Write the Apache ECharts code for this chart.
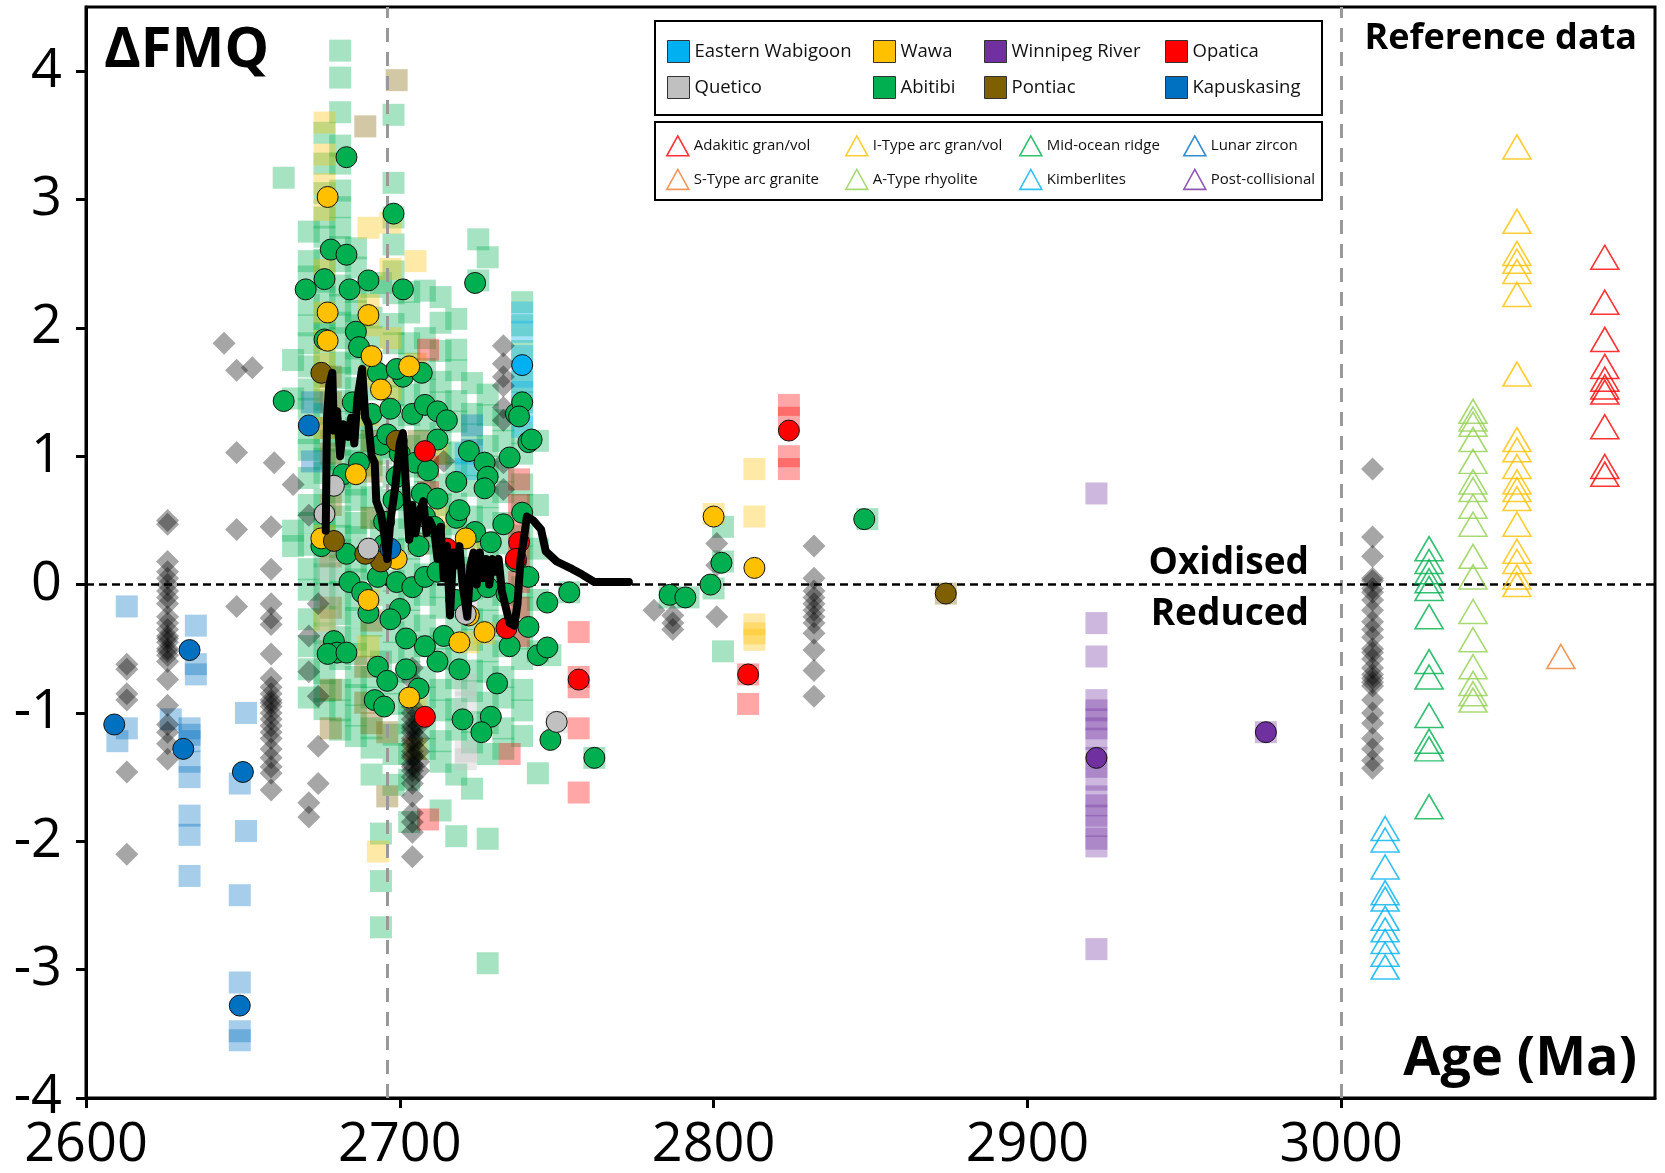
<!DOCTYPE html>
<html><head><meta charset="utf-8">
<script src="https://cdn.jsdelivr.net/npm/echarts@6/dist/echarts.min.js"></script>
<style>html,body{margin:0;padding:0;background:#fff}#c{width:1665px;height:1173px}</style>
</head><body><div id="c"></div>
<script>
// ---------- axis ticks ----------
const xTicks = [2600, 2700, 2800, 2900, 3000];
const yTicks = [-4, -3, -2, -1, 0, 1, 2, 3, 4];

// ---------- regional data: individual analyses (columns: [age, [dFMQ...]]) ----------
const abitibiSquares = [
  [2663, [3.17]], [2666, [1.75, 1.45, 0.42, 0.3]],
  [2671, [2.75, 2.52, 2.4, 2.18, 2.02, 1.88, 1.7, 1.52, 1.37, 1.18, 1.05, 0.83, 0.62, 0.48, 0.31, 0.12, -0.04, -0.27, -0.48, -0.66, -0.88]],
  [2676, [3.52, 3.28, 3.05, 2.86, 2.71, 2.53, 2.36, 2.24, 2.07, 1.96, 1.78, 1.62, 1.44, 1.33, 1.12, 0.98, 0.87, 0.66, 0.51, 0.43, 0.22, 0.08, -0.07, -0.24, -0.38, -0.52, -0.69, -0.83, -0.97]],
  [2681, [4.16, 3.95, 3.68, 3.42, 3.28, 3.07, 2.94, 2.78, 2.63, 2.52, 2.33, 2.18, 2.04, 1.92, 1.73, 1.61, 1.43, 1.27, 1.16, 0.97, 0.84, 0.72, 0.53, 0.38, 0.27, 0.09, -0.06, -0.23, -0.41, -0.58, -0.82, -0.98, -1.13]],
  [2686, [2.62, 2.47, 2.28, 2.13, 2.02, 1.84, 1.72, 1.53, 1.41, 1.22, 1.09, 0.96, 0.78, 0.66, 0.48, 0.37, 0.18, 0.04, -0.12, -0.26, -0.43, -0.54, -0.72, -0.86, -1.02, -1.18]],
  [2691, [2.32, 2.08, 1.93, 1.68, 1.52, 1.28, 1.12, 0.93, 0.68, 0.52, 0.27, 0.12, -0.08, -0.32, -0.48, -0.72, -0.88, -1.12, -1.27, -1.48]],
  [2694, [-1.94, -2.31, -2.67, 2.35, 1.02, 0.42, -0.6]],
  [2698, [3.66, 3.13, 2.86, 2.65, 2.44, 2.27, 2.03, 1.88, 1.62, 1.47, 1.23, 1.07, 0.84, 0.66, 0.43, 0.27, 0.03, -0.13, -0.37, -0.53, -0.77, -0.93, -1.17, -1.32, -1.56]],
  [2703, [2.28, 2.12, 1.88, 1.72, 1.48, 1.32, 1.08, 0.92, 0.68, 0.52, 0.28, 0.12, -0.12, -0.28, -0.52, -0.68, -0.92, -1.08, -1.32, -1.52, -1.85]],
  [2708, [2.29, 1.92, 1.68, 1.52, 1.28, 1.12, 0.88, 0.72, 0.48, 0.32, 0.08, -0.08, -0.32, -0.48, -0.72, -0.88, -1.12, -1.28]],
  [2713, [2.24, 2.04, 1.82, 1.58, 1.42, 1.18, 1.02, 0.78, 0.62, 0.38, 0.22, -0.02, -0.18, -0.42, -0.58, -0.82, -0.98, -1.22, -1.38, -1.76]],
  [2718, [2.07, 1.83, 1.67, 1.43, 1.27, 1.03, 0.87, 0.63, 0.47, 0.23, 0.07, -0.17, -0.33, -0.57, -0.73, -0.97, -1.13, -1.48, -1.96]],
  [2723, [1.57, 1.33, 1.17, 0.93, 0.77, 0.53, 0.37, 0.13, -0.03, -0.27, -0.43, -0.67, -0.83, -1.07, -1.23, -1.59]],
  [2725, [2.69, 2.37]],
  [2728, [2.55, 1.48, 1.32, 1.08, 0.92, 0.68, 0.52, 0.28, 0.12, -0.12, -0.28, -0.52, -0.68, -0.92, -1.08, -1.32, -1.98, -2.95]],
  [2733, [1.28, 1.12, 0.88, 0.72, 0.48, 0.32, 0.08, -0.08, -0.32, -0.48, -0.72, -0.88, -1.12, -1.28]],
  [2739, [2.2, 2.02, 1.82, 1.58, 1.42, 1.18, 1.02, 0.78, 0.62, 0.38, 0.22, -0.02, -0.18, -0.42, -0.58, -0.82, -0.98, -1.18]],
  [2744, [1.12, 0.62, 0.28, -0.12, -0.52, -1.47]],
  [2748, [-0.55]], [2754, [-0.06]], [2762, [-1.35]],
  [2786, [-0.1]], [2792, [-0.1]], [2800, [-0.03]], [2803, [0.45, 0.18, -0.52]], [2849, [0.51]]
];
const wawaSquares = [
  [2676, [3.6, 3.35, 3.12, 2.92, 2.45, 2.12, 1.9, 1.72, 1.5, 1.22, 0.38, -0.28]],
  [2690, [2.78, 2.18, 2.02, 1.62, 1.32, 0.92, -0.12, -0.48]],
  [2697, [2.82, 2.46, 1.92, 1.52]], [2693, [-2.08]],
  [2705, [2.52, 1.72, -0.88, -1.28]], [2712, [1.02, 0.52]],
  [2722, [0.36, -0.45]], [2727, [-0.38]], [2800, [0.55]],
  [2813, [0.9, 0.53, -0.31, -0.38, -0.43]]
];
const pontiacSquares = [
  [2699, [3.93]], [2689, [3.57, -0.92, -0.64]],
  [2678, [1.62, 1.42, 1.22, 1.02, 0.62, 0.22, -0.18, -0.52, -0.82, -1.12]],
  [2691, [1.12, 0.88, 0.52, -0.28, -1.08]], [2696, [-1.65, -1.15]],
  [2706, [1.12, 0.32]], [2874, [-0.07]]
];
const queticoSquares = [
  [2677, [0.32, 0.12, -0.08, -0.28, -0.45]], [2690, [0.28]],
  [2721, [-0.18, -0.78, -0.92, -1.3, -1.36]], [2750, [-1.07]]
];
const opaticaSquares = [
  [2709, [1.83, 0.92, 0.72, -1.83]], [2716, [0.25]], [2735, [-1.32]],
  [2738, [0.82, 0.62, 0.42, 0.22, 0.02, -0.18, -0.4]],
  [2757, [-0.37, -0.72, -0.8, -1.12, -1.62]], [2811, [-0.93, -0.7]],
  [2824, [1.4, 1.3, 1.0, 0.9]]
];
const winnipegSquares = [
  [2922, [0.71, -0.3, -0.56, -0.9, -0.98, -1.05, -1.12, -1.2, -1.35, -1.42, -1.52, -1.65, -1.72, -1.8, -1.88, -1.98, -2.04, -2.84]],
  [2976, [-1.15]]
];
const wabigoonSquares = [
  [2739, [2.12, 1.97, 1.78, 1.62, 1.5, 1.35, 1.23]], [2721, [1.02, 0.9]], [2724, [0.05]]
];
const kapuskasingSquares = [
  [2610, [-1.22]], [2613, [-0.17, -1.12]], [2627, [-1.05]],
  [2633, [-1.12, -1.17, -1.22, -1.38, -1.5, -1.8, -1.95, -2.27]],
  [2635, [-0.32, -0.62, -0.7]], [2649, [-1.55, -2.42, -3.1, -3.48, -3.55]],
  [2651, [-1.0, -1.92]], [2672, [1.42, 0.96]], [2723, [1.24, 1.05]]
];

// ---------- regional averages (circles) [age, dFMQ] ----------
const abitibiMeans = [
  [2663,1.43],[2683,3.33],[2698,2.89],[2670,2.3],[2678,2.61],[2683,2.57],[2676,2.38],[2684,2.3],[2690,2.37],[2701,2.3],[2724,2.35],
  [2676,1.91],[2686,1.97],[2687,1.85],[2693,1.65],[2701,1.62],[2699,1.68],[2707,1.65],[2685,1.42],[2691,1.33],[2697,1.37],[2704,1.33],
  [2708,1.4],[2712,1.35],[2715,1.28],[2712,1.13],[2682,0.86],[2687,0.95],[2694,1.09],[2700,1.02],[2705,0.95],[2709,0.89],[2722,1.04],
  [2727,0.95],[2728,0.84],[2727,0.75],[2718,0.8],[2737,1.33],[2739,1.42],[2741,1.11],[2675,0.3],[2683,0.24],[2695,0.31],[2706,0.3],
  [2708,0.53],[2711,0.45],[2718,0.52],[2719,0.58],[2724,0.41],[2729,0.33],[2733,0.47],[2739,0.56],[2747,-0.14],[2754,-0.06],[2741,-0.33],
  [2735,-0.48],[2744,-0.55],[2747,-0.49],[2748,-1.21],[2762,-1.35],[2731,-0.77],[2729,-1.03],[2726,-1.15],[2720,-1.05],[2719,-0.66],
  [2712,-0.6],[2714,-0.4],[2708,-0.48],[2702,-0.42],[2700,-0.19],[2697,-0.27],[2693,-0.64],[2696,-0.75],[2692,-0.9],[2695,-0.95],
  [2702,-0.66],[2706,-0.81],[2690,-0.22],[2684,0.02],[2688,-0.06],[2693,0.06],[2699,0.02],[2704,-0.02],[2708,0.06],[2712,0.1],
  [2718,-0.12],[2723,-0.05],[2728,-0.02],[2734,-0.07],[2737,0.18],[2741,0.06],[2679,-0.44],[2680,-0.53],[2677,-0.54],[2683,-0.53],
  [2698,0.66],[2696,1.17],[2707,0.71],[2699,0.84],[2695,0.49],[2712,0.67],[2735,0.99],[2738,1.31],[2742,1.13],
  [2786,-0.08],[2791,-0.1],[2799,0.0],[2802.5,0.17],[2848,0.51]
];
const wawaMeans = [
  [2677,3.02],[2677,2.12],[2677,1.9],[2690,2.1],[2691,1.78],[2694,1.52],[2703,1.7],[2686,0.86],[2675,0.36],[2699,0.2],
  [2690,-0.12],[2721,0.36],[2719,-0.45],[2727,-0.37],[2703,-0.88],[2722,-0.24],[2800,0.53],[2813,0.13]
];
const pontiacMeans = [[2675,1.65],[2679,0.34],[2699,1.12],[2694,0.18],[2689,0.24],[2874,-0.07]];
const queticoMeans = [[2676,0.55],[2679,0.77],[2690,0.28],[2721,-0.23],[2750,-1.07]];
const opaticaMeans = [[2708,1.04],[2708,-1.03],[2715,0.28],[2734,-0.34],[2738,0.33],[2737,0.2],[2757,-0.74],[2811,-0.7],[2824,1.2]];
const winnipegMeans = [[2922,-1.35],[2976,-1.15]];
const wabigoonMeans = [[2739,1.71]];
const kapuskasingMeans = [[2609,-1.09],[2631,-1.28],[2633,-0.51],[2650,-1.46],[2649,-3.28],[2671,1.24],[2697,0.28]];

// ---------- grey diamonds ----------
const diamondCols = [
  [2613, [-0.62, -0.66, -0.85, -0.9, -1.46, -2.1]],
  [2626, [0.5, 0.47, 0.18, 0.1, 0.05, 0.0, -0.05, -0.1, -0.15, -0.25, -0.3, -0.35, -0.4, -0.42, -0.45, -0.5, -0.52, -0.55, -0.6, -0.74, -0.94, -1.09, -1.15, -1.24, -1.36]],
  [2644, [1.88]], [2648, [1.67, 1.03, 0.43, -0.17]], [2653, [1.69]],
  [2659, [0.45, 0.12, -0.15, -0.26, -0.31, -0.54, -0.73, -0.8, -0.85, -0.9, -0.92, -0.95, -1.0, -1.05, -1.1, -1.15, -1.2, -1.28, -1.35, -1.42, -1.47, -1.6]],
  [2660, [0.95]], [2666, [0.78]],
  [2671, [0.54, -0.4, -0.68, -1.7, -1.81]], [2674, [-0.15, -0.87, -1.26, -1.55]],
  [2704, [-0.65, -0.75, -0.85, -0.95, -1.0, -1.05, -1.1, -1.12, -1.15, -1.2, -1.22, -1.25, -1.3, -1.33, -1.35, -1.4, -1.42, -1.45, -1.5, -1.55, -1.65, -1.78, -1.85, -1.93, -2.12]],
  [2706, [-1.1, -1.2, -1.3, -1.38, -1.45]],
  [2714, [0.96]], [2733, [1.86, 1.72, 1.62, 1.55, 1.38, 1.28, 0.95, 0.74]],
  [2781, [-0.2]], [2787, [-0.24, -0.3, -0.35]], [2801, [0.32, 0.15, -0.25]],
  [2832, [0.3, 0.05, -0.05, -0.1, -0.15, -0.2, -0.25, -0.3, -0.38, -0.51, -0.67, -0.87]],
  [3010, [0.9, 0.37, 0.22, 0.05, 0.03, -0.03, -0.06, -0.12, -0.2, -0.29, -0.35, -0.41, -0.5, -0.53, -0.58, -0.65, -0.7, -0.73, -0.76, -0.79, -0.9, -1.0, -1.08, -1.2, -1.28, -1.37, -1.43]]
];

// ---------- running average (black line) ----------
const trendLine = [
  [2676.4,0.42],[2676.8,1.3],[2677.5,1.55],[2678.5,1.65],[2679,1.2],[2680,1.35],[2681,1.0],[2682,1.25],[2683.5,1.15],[2684.5,1.3],
  [2685.5,1.1],[2686.5,1.45],[2688,1.68],[2689,1.3],[2690,1.25],[2691,1.0],[2692,0.95],[2692.5,0.65],[2694,0.55],[2695,0.4],
  [2696,0.2],[2697,0.5],[2698.5,0.75],[2700,1.1],[2701,1.18],[2702,0.75],[2703,0.35],[2704,0.62],[2705,0.4],[2706,0.55],
  [2707.5,0.65],[2708.5,0.4],[2709.5,0.5],[2711,0.42],[2712,0.2],[2713,0.45],[2714,0.05],[2715,0.3],[2716,-0.24],[2717,0.25],
  [2718,0.15],[2719,0.3],[2720,0.0],[2721.5,-0.25],[2722.5,0.15],[2723.5,0.25],[2724.5,0.0],[2725.5,0.25],[2726.5,0.05],[2727.5,0.2],
  [2728.5,0.0],[2729.5,0.2],[2730.5,0.1],[2731.5,0.2],[2732.5,-0.05],[2734,-0.2],[2735,-0.3],[2736.5,-0.32],[2737.5,-0.15],[2738.5,0.2],
  [2739.5,0.35],[2740.5,0.53],[2742.5,0.5],[2745,0.43],[2746.5,0.26],[2750,0.18],[2755,0.12],[2758,0.08],[2762,0.02],[2773,0.02]
];

// ---------- reference data (open triangles) ----------
const refKimberlites = [[3014,-1.9],[3014,-1.99],[3014,-2.2],[3014,-2.4],[3014,-2.45],[3014,-2.6],[3014,-2.69],[3014,-2.78],[3014,-2.88],[3014,-2.98]];
const refMOR = [[3028,0.28],[3028,0.18],[3028,0.1],[3028,0.03],[3028,-0.03],[3028,-0.25],[3028,-0.6],[3028,-0.72],[3028,-1.02],[3028,-1.22],[3028,-1.28],[3028,-1.73]];
const refAType = [[3042,1.35],[3042,1.29],[3042,1.25],[3042,1.13],[3042,0.96],[3042,0.8],[3042,0.74],[3042,0.61],[3042,0.47],[3042,0.22],[3042,0.06],[3042,-0.21],[3042,-0.43],[3042,-0.64],[3042,-0.77],[3042,-0.85],[3042,-0.9]];
const refIType = [[3056,3.41],[3056,2.83],[3056,2.58],[3056,2.52],[3056,2.44],[3056,2.26],[3056,1.64],[3056,1.13],[3056,1.05],[3056,0.92],[3056,0.8],[3056,0.74],[3056,0.67],[3056,0.47],[3056,0.26],[3056,0.18],[3056,0.06],[3056,0.0]];
const refSType = [[3070,-0.56]];
const refAdakitic = [[3084,2.55],[3084,2.2],[3084,1.91],[3084,1.7],[3084,1.6],[3084,1.54],[3084,1.5],[3084,1.23],[3084,0.92],[3084,0.86]];
const refLunar = [];
const refPostCollisional = [];

// ---------- build ----------
const FONT = '"Open Sans", "Noto Sans", sans-serif';
const flat = cols => cols.flatMap(([x, ys]) => ys.map(y => [x, y]));
const C = {
  wabigoon: '#00B0F0', quetico: '#C0C0C0', wawa: '#FFC000', abitibi: '#00B050',
  winnipeg: '#7030A0', pontiac: '#7F6000', opatica: '#FF0000', kapuskasing: '#0070C0'
};
const sq = (name, color, cols) => ({
  type: 'scatter', name: name + ' data', symbol: 'rect', symbolSize: 22, z: 2, silent: true,
  itemStyle: { color: color, opacity: 0.35 }, data: flat(cols)
});
const mean = (name, color, data) => ({
  type: 'scatter', name: name, symbol: 'circle', symbolSize: 21, z: 5, silent: true,
  itemStyle: { color: color, borderColor: '#111', borderWidth: 1, opacity: 1 }, data: data
});
const tri = (name, color, data) => ({
  type: 'scatter', name: name, symbol: 'triangle', symbolSize: [28, 24], z: 6, silent: true,
  itemStyle: { color: 'rgba(255,255,255,0)', borderColor: color, borderWidth: 1.6 }, data: data
});

const series = [
  sq('Abitibi', C.abitibi, abitibiSquares),
  sq('Wawa', C.wawa, wawaSquares),
  sq('Pontiac', C.pontiac, pontiacSquares),
  sq('Quetico', C.quetico, queticoSquares),
  sq('Opatica', C.opatica, opaticaSquares),
  sq('Winnipeg River', C.winnipeg, winnipegSquares),
  sq('Eastern Wabigoon', C.wabigoon, wabigoonSquares),
  sq('Kapuskasing', C.kapuskasing, kapuskasingSquares),
  {
    type: 'scatter', name: 'previous', symbol: 'diamond', symbolSize: 23, z: 3, silent: true,
    itemStyle: { color: '#000', opacity: 0.35 }, data: flat(diamondCols)
  },
  {
    type: 'scatter', name: 'guides', data: [], z: 3, silent: true,
    markLine: {
      silent: true, symbol: 'none', label: { show: false }, animation: false,
      data: [
        { xAxis: 2696, lineStyle: { color: '#999', type: [14, 10], width: 3 } },
        { xAxis: 3000, lineStyle: { color: '#999', type: [14, 10], width: 3 } },
        { yAxis: 0, lineStyle: { color: '#000', type: [8, 5], width: 2.5 } }
      ]
    }
  },
  mean('Abitibi', C.abitibi, abitibiMeans),
  mean('Wawa', C.wawa, wawaMeans),
  mean('Pontiac', C.pontiac, pontiacMeans),
  mean('Quetico', C.quetico, queticoMeans),
  mean('Opatica', C.opatica, opaticaMeans),
  mean('Winnipeg River', C.winnipeg, winnipegMeans),
  mean('Eastern Wabigoon', C.wabigoon, wabigoonMeans),
  mean('Kapuskasing', C.kapuskasing, kapuskasingMeans),
  {
    type: 'line', name: 'trend', data: trendLine, showSymbol: false, z: 7, silent: true,
    lineStyle: { color: '#000', width: 8, join: 'round', cap: 'round' }
  },
  tri('Adakitic gran/vol', '#FF0000', refAdakitic),
  tri('S-Type arc granite', '#ED7D31', refSType),
  tri('I-Type arc gran/vol', '#FFC000', refIType),
  tri('A-Type rhyolite', '#92D050', refAType),
  tri('Mid-ocean ridge', '#00B050', refMOR),
  tri('Kimberlites', '#00B0F0', refKimberlites),
  tri('Lunar zircon', '#0070C0', refLunar),
  tri('Post-collisional', '#7030A0', refPostCollisional)
];

const regionItem = (name, color) => ({ name, icon: 'rect', itemStyle: { color, borderColor: '#333', borderWidth: 1 } });
const triItem = (name, color) => ({ name, icon: 'triangle', itemStyle: { color: 'rgba(255,255,255,0)', borderColor: color, borderWidth: 1.6 } });
const legendBase = (left, top, data, fs, iw, ih, gap) => ({
  orient: 'vertical', left, top, padding: 0, itemGap: gap, itemWidth: iw, itemHeight: ih,
  selectedMode: false, textStyle: { fontSize: fs, color: '#111', fontFamily: FONT }, data
});

const option = {
  animation: false,
  backgroundColor: '#fff',
  grid: { left: 86, right: 10, top: 7, bottom: 69, show: true, borderColor: '#000', borderWidth: 3 },
  xAxis: {
    type: 'value', min: xTicks[0], max: 3100, interval: 100,
    axisLine: { onZero: false, lineStyle: { color: '#000', width: 3 } },
    axisTick: { length: 10, lineStyle: { color: '#000', width: 3 } },
    axisLabel: { fontSize: 54, color: '#000', fontFamily: FONT, margin: 21, showMaxLabel: false,
      formatter: v => xTicks.includes(v) ? String(v) : '' },
    splitLine: { show: false }
  },
  yAxis: {
    type: 'value', min: yTicks[0], max: 4.5, interval: 1,
    axisLine: { onZero: false, lineStyle: { color: '#000', width: 3 } },
    axisTick: { length: 10, lineStyle: { color: '#000', width: 3 } },
    axisLabel: { fontSize: 54, color: '#000', fontFamily: FONT, margin: 24, showMaxLabel: false,
      formatter: v => yTicks.includes(v) ? String(v) : '' },
    splitLine: { show: false }
  },
  legend: [
    legendBase(667, 40, [regionItem('Eastern Wabigoon', C.wabigoon), regionItem('Quetico', C.quetico)], 18.5, 22, 22, 13),
    legendBase(873, 40, [regionItem('Wawa', C.wawa), regionItem('Abitibi', C.abitibi)], 18.5, 22, 22, 13),
    legendBase(984, 40, [regionItem('Winnipeg River', C.winnipeg), regionItem('Pontiac', C.pontiac)], 18.5, 22, 22, 13),
    legendBase(1165, 40, [regionItem('Opatica', C.opatica), regionItem('Kapuskasing', C.kapuskasing)], 18.5, 22, 22, 13),
    legendBase(666, 135, [triItem('Adakitic gran/vol', '#FF0000'), triItem('S-Type arc granite', '#ED7D31')], 15, 22, 20, 12),
    legendBase(845, 135, [triItem('I-Type arc gran/vol', '#FFC000'), triItem('A-Type rhyolite', '#92D050')], 15, 22, 20, 12),
    legendBase(1019, 135, [triItem('Mid-ocean ridge', '#00B050'), triItem('Kimberlites', '#00B0F0')], 15, 22, 20, 12),
    legendBase(1183, 135, [triItem('Lunar zircon', '#0070C0'), triItem('Post-collisional', '#7030A0')], 15, 22, 20, 12)
  ],
  graphic: [
    { type: 'rect', z: 1, shape: { x: 655, y: 21, width: 667, height: 94 }, style: { fill: '#fff', stroke: '#000', lineWidth: 2 } },
    { type: 'rect', z: 1, shape: { x: 655, y: 122, width: 667, height: 78 }, style: { fill: '#fff', stroke: '#000', lineWidth: 2 } },
    { type: 'text', z: 10, x: 104, y: 51, style: { text: 'ΔFMQ', font: 'bold 56px ' + FONT, fill: '#000', align: 'left', verticalAlign: 'middle' } },
    { type: 'text', z: 10, x: 1637, y: 39, style: { text: 'Reference data', font: 'bold 36px ' + FONT, fill: '#000', align: 'right', verticalAlign: 'middle' } },
    { type: 'text', z: 10, x: 1637, y: 1060, style: { text: 'Age (Ma)', font: 'bold 54px ' + FONT, fill: '#000', align: 'right', verticalAlign: 'middle' } },
    { type: 'text', z: 10, x: 1309, y: 563, style: { text: 'Oxidised', font: 'bold 37px ' + FONT, fill: '#000', align: 'right', verticalAlign: 'middle' } },
    { type: 'text', z: 10, x: 1309, y: 614, style: { text: 'Reduced', font: 'bold 37px ' + FONT, fill: '#000', align: 'right', verticalAlign: 'middle' } }
  ],
  series
};
const chart = echarts.init(document.getElementById('c'), null, { renderer: 'canvas' });
chart.setOption(option);
</script>
</body></html>
